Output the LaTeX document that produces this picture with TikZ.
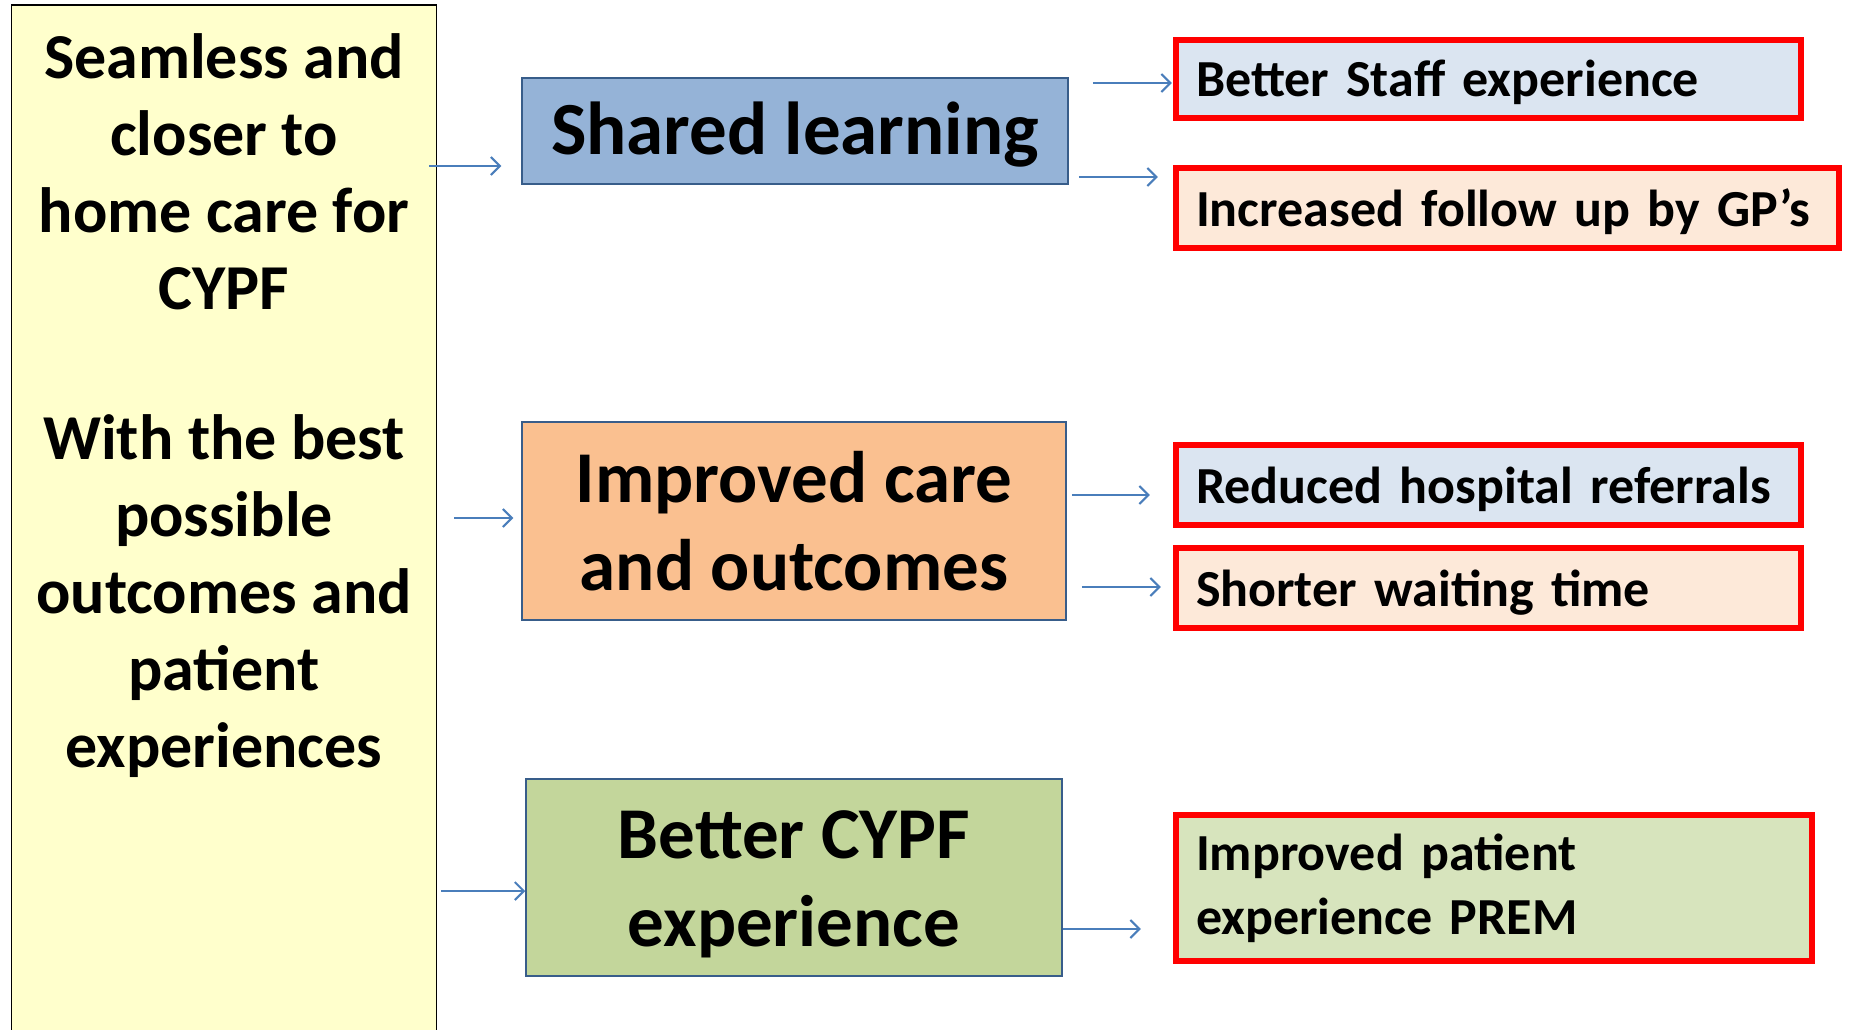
\documentclass[tikz,border=0pt]{standalone}
\usepackage{fontspec}
\setmainfont{Carlito}
\usetikzlibrary{arrows.meta}
\definecolor{goalfill}{HTML}{FFFFCC}
\definecolor{midline}{HTML}{385D8A}
\definecolor{sharedfill}{HTML}{95B3D7}
\definecolor{carefill}{HTML}{FAC090}
\definecolor{cypffill}{HTML}{C3D69B}
\definecolor{bluefill}{HTML}{DBE5F1}
\definecolor{peachfill}{HTML}{FDE9D9}
\definecolor{greenfill}{HTML}{D7E4BD}
\definecolor{redline}{HTML}{FF0000}
\definecolor{arrowblue}{HTML}{4A7EBB}
\tikzset{
  goalbox/.style={draw=black, line width=1.5pt, fill=goalfill, inner sep=0pt},
  midbox/.style={draw=midline, line width=1.5pt, inner sep=0pt, align=center,
     font=\fontsize{73}{88}\selectfont\bfseries},
  midtext/.style={inner sep=0pt, align=center, font=\fontsize{73}{88}\selectfont\bfseries},
  outbox/.style={draw=redline, line width=6.5pt, inner ysep=0pt, inner xsep=20pt, align=left,
     font=\fontsize{52}{64}\selectfont\bfseries},
  oneline/.style={text height=40pt, text depth=4pt},
  arr/.style={draw=arrowblue, line width=2.1pt, -{Straight Barb[length=9pt,width=18pt,line width=2.1pt]}},
}
\begin{document}
\begin{tikzpicture}[x=1pt,y=-1pt]
\useasboundingbox (0,0) rectangle (1849,1030);
% goal column
\node[goalbox, minimum width=425pt, minimum height=1040pt] (goal) at (224,525) {};
\node[anchor=north, inner sep=0pt, align=center,
      font=\fontsize{64}{77}\selectfont\bfseries] (goaltext) at (224,33)
  {Seamless and\\closer to\\home care for\\CYPF\\[73pt]With the best\\possible\\outcomes and\\patient\\experiences};
% middle boxes
\node[midbox, fill=sharedfill, minimum width=546pt, minimum height=106pt] (shared) at (795,131) {};
\node[midtext, font=\fontsize{75}{90}\selectfont\bfseries] (sharedtext) at ([yshift=-4pt]shared.center) {Shared learning};
\node[midbox, fill=carefill, minimum width=544pt, minimum height=198pt] (care) at (794,521) {Improved care\\and outcomes};
\node[midbox, fill=cypffill, minimum width=536pt, minimum height=197pt] (cypf) at (794,877.5) {};
\node[midtext] (cypftext) at ([yshift=-7pt]cypf.center) {Better CYPF\\experience};
% outcome boxes
\node[outbox, oneline, fill=bluefill, minimum height=78pt, text width=585pt] (staff) at (1488.5,79) {\mbox{Better Staff experience}};
\node[outbox, oneline, fill=peachfill, minimum height=80pt, text width=623pt] (follow) at (1507.5,208) {\mbox{Increased follow up by GP’s}};
\node[outbox, oneline, fill=bluefill, minimum height=80pt, text width=585pt] (reduced) at (1488.5,485) {\mbox{Reduced hospital referrals}};
\node[outbox, oneline, fill=peachfill, minimum height=80pt, text width=585pt] (shorter) at (1488.5,588) {\mbox{Shorter waiting time}};
\node[outbox, fill=greenfill, minimum height=146pt, text width=596pt] (prem) at (1494,888) {Improved patient\\experience PREM};
% connectors
\draw[arr] ([xshift=-8pt]goal.east |- 0,166) -- ([xshift=-20pt]shared.west |- 0,166);
\draw[arr] ([xshift=17pt]goal.east |- 0,518) -- ([xshift=-8pt]care.west |- 0,518);
\draw[arr] ([xshift=4pt]goal.east |- 0,891) -- (cypf.west |- 0,891);
\draw[arr] ([xshift=24pt]shared.east |- 0,83) -- ([xshift=-1pt]staff.west |- 0,83);
\draw[arr] ([xshift=10pt]shared.east |- 0,177) -- ([xshift=-15pt]follow.west |- 0,177);
\draw[arr] ([xshift=5pt]care.east |- 0,495) -- ([xshift=-23pt]reduced.west |- 0,495);
\draw[arr] ([xshift=15pt]care.east |- 0,587) -- ([xshift=-12pt]shorter.west |- 0,587);
\draw[arr] (cypf.east |- 0,929) -- ([xshift=-32pt]prem.west |- 0,929);
\end{tikzpicture}
\end{document}
